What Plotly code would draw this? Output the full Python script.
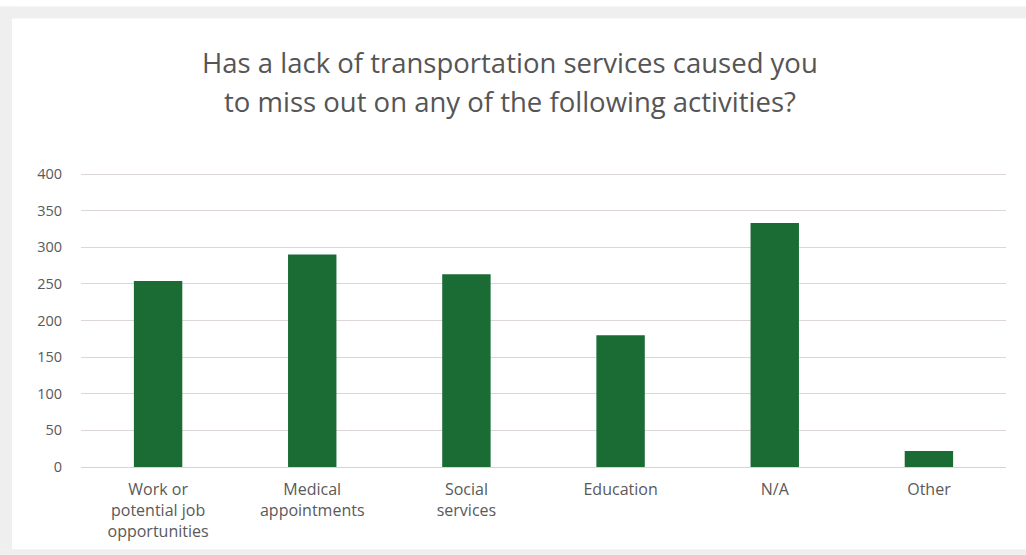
import plotly.graph_objects as go

# Survey responses per activity
categories = ["Work or<br>potential job<br>opportunities", "Medical<br>appointments",
              "Social<br>services", "Education", "N/A", "Other"]
responses = [254, 290, 263, 180, 333, 22]
y_ticks = [0, 50, 100, 150, 200, 250, 300, 350, 400]

title_lines = ["Has a lack of transportation services caused you",
               "to miss out on any of the following activities?"]

W, H = 1026, 555
L, R, T, B = 81, 20, 172.5, 88.3
y_top = 401.4  # a little headroom so the 400 gridline is drawn
plot_w = W - L - R
plot_h = H - T - B


def px_x(px):
    return (px - L) / plot_w


def px_y(py):
    return (H - B - py) / plot_h


fig = go.Figure(
    go.Bar(
        x=categories,
        y=responses,
        marker=dict(color="#1b6b35", line=dict(width=0)),
        hoverinfo="x+y",
    )
)

font_family = "Open Sans"
gray_text = "#595959"
frame = "#efefef"

shapes = [
    # light grey frame around the white card
    dict(type="rect", xref="paper", yref="paper", layer="below",
         x0=px_x(0), x1=px_x(W), y0=px_y(18), y1=px_y(6),
         fillcolor=frame, line=dict(width=0)),
    dict(type="rect", xref="paper", yref="paper", layer="below",
         x0=px_x(0), x1=px_x(12), y0=px_y(549), y1=px_y(6),
         fillcolor=frame, line=dict(width=0)),
    dict(type="rect", xref="paper", yref="paper", layer="below",
         x0=px_x(0), x1=px_x(W), y0=px_y(H), y1=px_y(549),
         fillcolor=frame, line=dict(width=0)),
]

annotations = [
    dict(text=title_lines[0], xref="paper", yref="paper",
         x=px_x(510), y=px_y(62), xanchor="center", yanchor="middle",
         showarrow=False, font=dict(family=font_family, size=27.5, color="#555555")),
    dict(text=title_lines[1], xref="paper", yref="paper",
         x=px_x(510), y=px_y(101), xanchor="center", yanchor="middle",
         showarrow=False, font=dict(family=font_family, size=27.5, color="#555555")),
]

fig.update_layout(
    width=W,
    height=H,
    margin=dict(l=L, r=R, t=T, b=B, autoexpand=False),
    paper_bgcolor="white",
    plot_bgcolor="rgba(0,0,0,0)",
    bargap=0.686,
    showlegend=False,
    shapes=shapes,
    annotations=annotations,
    font=dict(family=font_family, color=gray_text),
)

fig.update_xaxes(
    showgrid=False,
    showline=True,
    linecolor="#d9d4d4",
    linewidth=1,
    ticks="",
    tickfont=dict(size=16, color=gray_text),
    ticklabelstandoff=8,
)

fig.update_yaxes(
    range=[0, y_top],
    tickvals=y_ticks,
    showgrid=True,
    gridcolor="#dcd6d6",
    gridwidth=1,
    zeroline=False,
    showline=False,
    ticks="",
    tickfont=dict(size=14.5, color=gray_text),
    ticklabelstandoff=18,
)

fig.write_html("out.html")
